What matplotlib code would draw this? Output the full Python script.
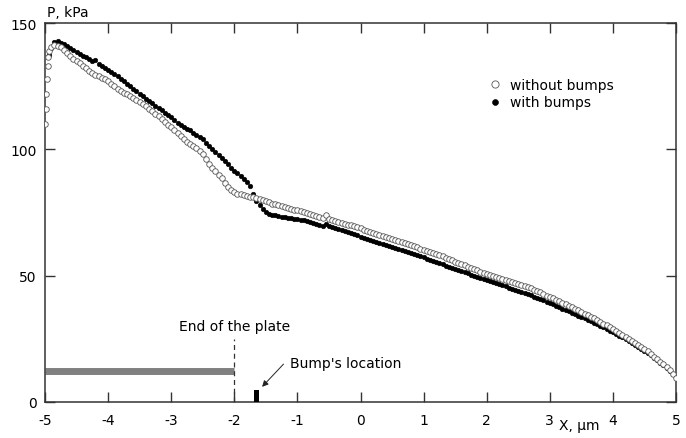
import numpy as np
import matplotlib
matplotlib.use('Agg')
import matplotlib.pyplot as plt

plt.rcParams['axes.unicode_minus'] = False

# pressure along the wall, kPa
# without bumps: leading-edge points, then a 0.05 step grid from -4.9 to 5.0
x_lead = [-5.00, -4.99, -4.98, -4.97, -4.96, -4.95, -4.93]
p_lead = [110.0, 116.0, 122.0, 128.0, 133.0, 136.5, 139.0]

p_without = [
    140.5, 141.3, 141.0, 140.4, 139.5, 138.3, 137.0, 135.9, 134.8, 134.0,
    133.0, 132.0, 131.0, 130.2, 129.5, 128.9, 128.3, 127.7, 127.0, 126.0,
    125.0, 124.0, 123.0, 122.4, 121.8, 121.0, 120.3, 119.5, 118.8, 117.9,
    117.0, 116.0, 115.0, 114.0, 113.0, 112.0, 111.0, 109.8, 108.7, 107.6,
    106.5, 105.2, 104.0, 103.0, 102.0, 101.2, 100.5, 99.3, 98.0, 96.0,
    94.0, 92.8, 91.5, 90.0, 88.5, 86.7, 85.0, 83.8, 83.0, 82.5,
    82.2, 81.9, 81.6, 81.3, 81.0, 80.6, 80.3, 79.9, 79.5, 79.0,
    78.5, 78.2, 77.8, 77.4, 77.0, 76.8, 76.5, 76.1, 75.8, 75.5,
    75.2, 74.8, 74.5, 74.1, 73.7, 73.3, 73.0, 74.0, 72.5, 72.0,
    71.6, 71.3, 71.0, 70.6, 70.2, 69.9, 69.5, 69.1, 68.7, 68.1,
    67.5, 67.2, 66.8, 66.4, 66.0, 65.6, 65.2, 64.9, 64.5, 64.2,
    63.8, 63.4, 63.0, 62.6, 62.2, 61.7, 61.2, 60.7, 60.2, 59.8,
    59.4, 59.0, 58.6, 58.1, 57.6, 57.1, 56.6, 56.1, 55.6, 55.1,
    54.6, 54.1, 53.6, 53.1, 52.6, 52.1, 51.6, 51.1, 50.7, 50.3,
    49.9, 49.5, 49.1, 48.7, 48.3, 47.9, 47.5, 47.2, 46.8, 46.4,
    45.9, 45.5, 45.0, 44.5, 44.0, 43.4, 42.8, 42.1, 41.5, 41.0,
    40.4, 39.9, 39.3, 38.7, 38.1, 37.5, 36.9, 36.3, 35.7, 35.0,
    34.4, 33.8, 33.1, 32.4, 31.7, 31.0, 30.3, 29.5, 28.8, 28.0,
    27.3, 26.5, 25.8, 25.0, 24.2, 23.4, 22.6, 21.8, 20.9, 20.0,
    19.0, 18.0, 17.0, 16.0, 14.9, 13.8, 12.6, 11.2, 9.5,
]

# with bumps: one extra point at -4.93, then 0.05 step from -4.9 to 4.95
x_first = [-4.93]
p_first = [137.5]

p_with = [
    140.0, 142.5, 142.8, 142.2, 141.5, 140.8, 140.0, 139.2, 138.4, 137.7,
    137.0, 136.4, 135.8, 135.1, 135.5, 133.8, 133.0, 132.3, 131.5, 130.6,
    129.8, 128.9, 128.0, 127.0, 126.0, 125.0, 124.0, 123.0, 122.0, 121.0,
    120.0, 119.1, 118.2, 117.2, 116.3, 115.4, 114.5, 113.5, 112.6, 111.6,
    110.6, 109.7, 108.8, 107.9, 107.8, 106.3, 105.6, 104.8, 104.0, 102.7,
    101.5, 100.2, 99.0, 97.8, 96.5, 95.2, 94.0, 92.7, 91.5, 90.5,
    89.3, 88.2, 87.0, 85.6, 82.3, 79.7, 77.8, 76.5, 75.2, 74.6,
    74.2, 73.9, 73.6, 73.4, 73.2, 73.0, 72.8, 72.6, 72.5, 72.2,
    72.0, 71.6, 71.3, 70.9, 70.5, 70.1, 69.8, 70.6, 69.6, 69.2,
    68.8, 68.4, 68.0, 67.6, 67.2, 66.7, 66.3, 65.9, 65.5, 65.0,
    64.5, 64.1, 63.7, 63.3, 62.9, 62.4, 62.0, 61.6, 61.2, 60.8,
    60.4, 60.0, 59.6, 59.2, 58.8, 58.4, 58.0, 57.6, 57.2, 56.7,
    56.3, 55.8, 55.4, 54.9, 54.5, 54.0, 53.6, 53.1, 52.7, 52.2,
    51.8, 51.3, 50.9, 50.4, 50.0, 49.5, 49.1, 48.7, 48.3, 47.8,
    47.4, 47.0, 46.6, 46.2, 45.8, 45.3, 44.9, 44.4, 44.0, 43.5,
    43.1, 42.6, 42.2, 41.7, 41.2, 40.7, 40.2, 39.7, 39.2, 38.6,
    38.1, 37.5, 37.0, 36.4, 35.9, 35.3, 34.8, 34.2, 33.7, 33.1,
    32.6, 32.0, 31.4, 30.8, 30.2, 29.5, 28.9, 28.2, 27.6, 26.9,
    26.3, 25.6, 24.9, 24.1, 23.4, 22.6, 21.9, 21.1, 20.3, 19.4,
    18.5, 17.5, 16.6, 15.6, 14.6, 13.5, 12.4, 11.0,
]

x_grid_without = np.round(-4.9 + 0.05 * np.arange(len(p_without)), 2)
x_grid_with = np.round(-4.9 + 0.05 * np.arange(len(p_with)), 2)

x_without = np.concatenate([x_lead, x_grid_without])
y_without = np.concatenate([p_lead, p_without])
x_with = np.concatenate([x_first, x_grid_with])
y_with = np.concatenate([p_first, p_with])

# plate and bump
plate_x = [-5, -2]
plate_y = 12.4
plate_end_x = -2
plate_end_top = 25
bump_x = -1.65
bump_h = 4.7

fig = plt.figure(figsize=(6.86, 4.39), dpi=100)
ax = fig.add_axes([45 / 686, 36 / 439, 631 / 686, 379 / 439])

ax.plot(x_with, y_with, 'o', ls='none', ms=3.3, mfc='black', mec='black',
        mew=0.4, label='with bumps', zorder=3)
ax.plot(x_without, y_without, 'o', ls='none', ms=4.0, mfc='white', mec='#555555',
        mew=0.6, label='without bumps', zorder=4)

ax.plot(plate_x, [plate_y, plate_y], color='#808080', lw=5, solid_capstyle='butt')
ax.plot([plate_end_x, plate_end_x], [0, plate_end_top], color='#333333', lw=0.9,
        ls=(0, (4, 3)))
ax.text(plate_end_x, 30, 'End of the plate', ha='center', va='center', fontsize=10)

ax.bar([bump_x], [bump_h], width=0.085, color='black', zorder=3)
ax.annotate('', xy=(-1.59, 5.2), xytext=(-1.19, 15.8),
            arrowprops=dict(arrowstyle='-|>', color='#222222', lw=0.7,
                            mutation_scale=9))
ax.text(-1.12, 15.3, "Bump's location", ha='left', va='center', fontsize=10)

ax.set_xlim(-5, 5)
ax.set_ylim(0, 150)
ax.set_xticks(range(-5, 6))
ax.set_yticks([0, 50, 100, 150])
ax.tick_params(direction='in', top=True, right=True, length=7, width=1,
               color='#333333', labelsize=10)
ax.tick_params(axis='x', pad=8)
ax.tick_params(axis='y', pad=6)
for s in ax.spines.values():
    s.set_color('#333333')
    s.set_linewidth(1.1)

handles, labels = ax.get_legend_handles_labels()
ax.legend(handles[::-1], labels[::-1], loc='upper left', frameon=False,
          bbox_to_anchor=(0.702, 0.855), borderpad=0, borderaxespad=0,
          handlelength=1.0, handletextpad=0.6, labelspacing=0.25,
          numpoints=1, markerscale=1.3, fontsize=10)

fig.text(47 / 686, 1 - 13 / 439, 'P, kPa', ha='left', va='center', fontsize=10)
fig.text(579 / 686, 1 - 426 / 439, 'X, \u03bcm', ha='center', va='center', fontsize=10)

fig.savefig('out.png', dpi=100)
